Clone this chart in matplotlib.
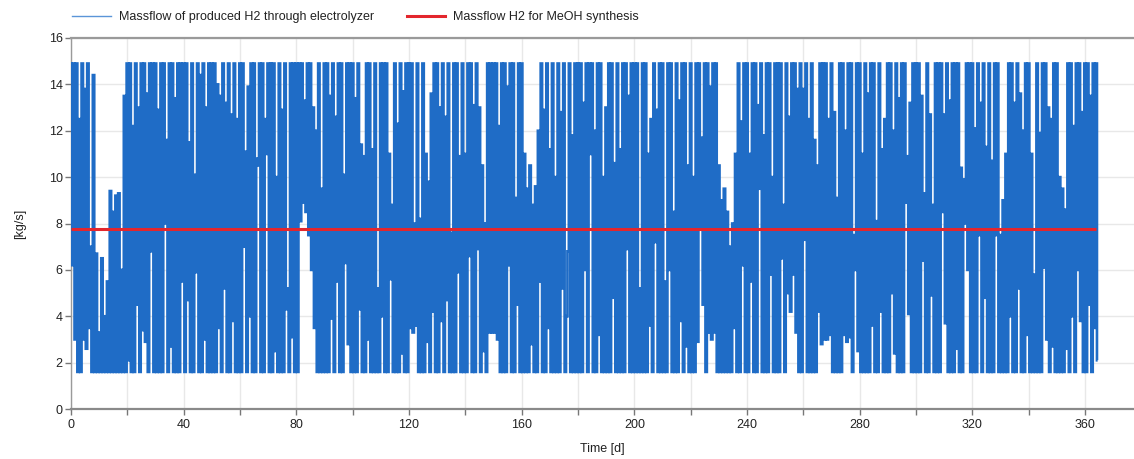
import numpy as np
import matplotlib
matplotlib.use("Agg")
import matplotlib.pyplot as plt
from matplotlib.lines import Line2D
from matplotlib.ticker import MultipleLocator

plt.rcParams['font.family'] = ['Liberation Sans', 'DejaVu Sans']

# Daily maximum of the produced H2 massflow [kg/s]
daily_peak = [
    14.9, 14.9, 14.9, 12.5, 14.9, 13.8, 14.9, 7.0, 14.4, 6.7,
    3.3, 6.5, 4.0, 5.5, 9.4, 8.5, 9.2, 9.3, 6.0, 13.5,
    14.9, 14.9, 12.2, 14.9, 13.0, 14.9, 14.9, 13.6, 14.9, 14.9,
    14.9, 12.9, 14.9, 14.9, 11.6, 14.9, 14.9, 13.4, 14.9, 14.9,
    14.9, 14.9, 11.5, 14.9, 10.1, 14.9, 14.4, 14.9, 13.0, 14.9,
    14.9, 14.9, 14.0, 13.5, 14.9, 13.2, 14.9, 12.7, 14.9, 12.5,
    14.9, 14.9, 11.1, 13.9, 14.9, 14.9, 10.8, 14.9, 14.9, 12.5,
    14.9, 14.9, 14.9, 10.0, 14.9, 12.9, 14.9, 5.2, 14.9, 14.9,
    14.9, 14.9, 14.9, 13.3, 14.9, 14.9, 13.0, 12.0, 14.9, 9.5,
    14.9, 14.9, 13.5, 14.9, 12.6, 14.9, 14.9, 10.1, 14.9, 14.9,
    14.9, 13.4, 14.9, 11.4, 10.9, 14.9, 14.9, 11.2, 14.9, 5.2,
    14.9, 14.9, 14.9, 11.0, 8.8, 14.9, 12.3, 14.9, 13.7, 14.9,
    14.9, 14.9, 8.0, 14.9, 8.2, 14.9, 11.0, 9.8, 13.6, 14.9,
    14.9, 13.0, 14.9, 12.6, 14.9, 7.6, 14.9, 14.9, 10.9, 14.9,
    11.0, 14.9, 14.9, 13.1, 14.9, 13.0, 10.5, 8.0, 14.9, 14.9,
    14.9, 14.9, 12.2, 14.9, 14.9, 13.9, 14.9, 14.9, 9.1, 14.9,
    14.9, 11.0, 9.5, 10.5, 8.8, 9.6, 12.0, 14.9, 12.9, 14.9,
    11.2, 14.9, 10.0, 14.9, 12.8, 14.9, 4.0, 14.9, 11.8, 14.9,
    14.9, 14.9, 13.2, 14.9, 14.9, 14.9, 12.0, 14.9, 14.9, 10.0,
    13.0, 14.9, 14.9, 10.6, 14.9, 11.2, 14.9, 14.9, 13.5, 14.9,
    14.9, 14.9, 5.2, 14.9, 14.9, 11.0, 12.5, 14.9, 12.9, 14.9,
    14.9, 5.5, 14.9, 14.9, 8.5, 14.9, 13.3, 14.9, 14.9, 10.5,
    14.9, 10.0, 14.9, 14.9, 11.7, 14.9, 14.9, 13.9, 14.9, 14.9,
    10.5, 9.0, 9.5, 8.5, 7.0, 8.0, 11.0, 14.9, 12.4, 14.9,
    14.9, 11.0, 14.9, 14.9, 13.1, 14.9, 11.8, 14.9, 14.9, 10.0,
    14.9, 14.9, 14.9, 8.8, 14.9, 12.6, 14.9, 14.9, 13.8, 14.9,
    13.8, 14.9, 12.5, 14.9, 11.6, 10.5, 14.9, 14.9, 14.9, 12.5,
    14.9, 12.8, 9.1, 14.9, 14.9, 12.0, 14.9, 14.9, 7.5, 14.9,
    14.9, 11.0, 14.9, 13.6, 14.9, 14.9, 8.1, 14.9, 11.2, 12.5,
    14.9, 14.9, 12.0, 14.9, 13.4, 14.9, 14.9, 10.9, 13.2, 14.9,
    14.9, 14.9, 13.5, 9.3, 14.9, 12.7, 8.8, 14.9, 14.9, 14.9,
    12.7, 14.9, 13.3, 14.9, 14.9, 14.9, 10.4, 9.9, 14.9, 14.9,
    14.9, 12.1, 14.9, 13.2, 14.9, 11.3, 14.9, 10.7, 14.9, 14.9,
    7.5, 9.0, 11.0, 14.9, 14.9, 13.2, 14.9, 13.6, 12.0, 14.9,
    14.9, 11.0, 5.8, 14.9, 11.9, 14.9, 14.9, 13.0, 12.5, 14.9,
    14.9, 10.0, 9.5, 8.6, 14.9, 14.9, 12.2, 14.9, 14.9, 12.8,
    14.9, 14.9, 13.5, 14.9, 14.9,
]

# Daily minimum of the produced H2 massflow [kg/s]
daily_trough = [
    6.2, 3.0, 1.6, 1.6, 3.0, 2.6, 3.5, 1.6, 1.6, 1.6,
    1.6, 1.6, 1.6, 1.6, 1.6, 1.6, 1.6, 1.6, 1.6, 1.6,
    2.1, 1.6, 1.6, 4.5, 1.6, 3.4, 2.9, 1.6, 6.8, 1.6,
    1.6, 1.6, 1.6, 8.0, 1.6, 2.7, 1.6, 1.6, 1.6, 5.5,
    1.6, 4.7, 1.6, 1.6, 5.9, 1.6, 1.6, 3.0, 1.6, 1.6,
    1.6, 1.6, 3.5, 1.6, 5.2, 1.6, 1.6, 3.8, 1.6, 1.6,
    1.6, 7.0, 1.6, 4.0, 1.6, 1.6, 10.5, 1.6, 1.6, 11.0,
    1.6, 1.6, 2.5, 1.6, 1.6, 1.6, 4.3, 1.6, 3.1, 1.6,
    1.6, 8.1, 8.9, 8.5, 7.5, 6.0, 3.5, 1.6, 1.6, 1.6,
    1.6, 1.6, 3.9, 1.6, 5.5, 1.6, 1.6, 6.3, 2.8, 1.6,
    1.6, 1.6, 4.3, 1.6, 1.6, 3.0, 1.6, 1.6, 1.6, 1.6,
    4.0, 1.6, 1.6, 5.6, 1.6, 1.6, 1.6, 2.4, 1.6, 1.6,
    3.5, 3.3, 3.6, 1.6, 1.6, 1.6, 2.9, 1.6, 4.2, 1.6,
    1.6, 3.8, 1.6, 4.7, 1.6, 1.6, 1.6, 5.9, 1.6, 1.6,
    1.6, 6.6, 1.6, 1.6, 6.9, 1.6, 2.5, 1.6, 3.3, 3.3,
    3.3, 3.0, 1.6, 1.6, 1.6, 6.2, 1.6, 1.6, 4.5, 1.6,
    1.6, 1.6, 1.6, 2.8, 1.6, 1.6, 5.5, 1.6, 1.6, 3.5,
    1.6, 1.6, 1.6, 1.6, 5.2, 1.6, 6.8, 1.6, 1.6, 1.6,
    1.6, 1.6, 6.0, 1.6, 11.0, 1.6, 1.6, 3.2, 1.6, 1.6,
    1.6, 1.6, 4.8, 1.6, 1.6, 1.6, 1.6, 6.9, 1.6, 1.6,
    1.6, 1.6, 1.6, 1.6, 1.6, 3.6, 1.6, 7.2, 1.6, 1.6,
    1.6, 1.6, 6.0, 1.6, 1.6, 1.6, 3.8, 1.6, 2.7, 1.6,
    1.6, 1.6, 2.9, 7.8, 4.5, 1.6, 3.3, 3.0, 3.3, 1.6,
    1.6, 1.6, 1.6, 1.6, 1.6, 3.5, 1.6, 1.6, 6.2, 1.6,
    1.6, 5.5, 1.6, 1.6, 9.5, 1.6, 1.6, 1.6, 5.8, 1.6,
    1.6, 1.6, 6.5, 1.6, 5.0, 4.2, 5.8, 3.3, 1.6, 1.6,
    7.3, 1.6, 1.6, 1.6, 1.6, 4.2, 2.8, 3.0, 3.0, 3.2,
    1.6, 1.6, 1.6, 1.6, 3.2, 2.9, 3.1, 1.6, 6.0, 2.5,
    1.6, 1.6, 1.6, 1.6, 3.6, 1.6, 1.6, 4.2, 1.6, 1.6,
    1.6, 5.0, 2.4, 1.6, 1.6, 1.6, 8.9, 4.1, 1.6, 1.6,
    1.6, 1.6, 6.4, 1.6, 1.6, 4.9, 1.6, 1.6, 1.6, 8.5,
    3.7, 1.6, 1.6, 1.6, 2.6, 1.6, 1.6, 8.0, 6.0, 1.6,
    1.6, 1.6, 7.5, 1.6, 4.8, 1.6, 1.6, 1.6, 7.5, 1.6,
    1.6, 1.6, 1.6, 4.0, 1.6, 1.6, 5.2, 1.6, 1.6, 3.2,
    1.6, 1.6, 1.6, 1.6, 1.6, 6.1, 3.0, 1.6, 2.7, 1.6,
    1.6, 1.6, 1.6, 2.6, 1.6, 4.0, 1.6, 6.0, 3.8, 1.6,
    1.6, 4.5, 1.6, 3.5, 2.1,
]

# Constant H2 demand of the methanol synthesis [kg/s]
meoh_time = [0, 364]
meoh_flow = [7.75, 7.75]

x_ticks = [0, 40, 80, 120, 160, 200, 240, 280, 320, 360]
y_ticks = [0, 2, 4, 6, 8, 10, 12, 14, 16]

label_prod = "Massflow of produced H2 through electrolyzer"
label_meoh = "Massflow H2 for MeOH synthesis"

blue = "#1f6cc6"
red = "#e3262d"

n = min(len(daily_peak), len(daily_trough))
flow = np.column_stack([daily_peak[:n], daily_trough[:n]]).ravel()
time = np.arange(flow.size) * 0.5

W, H = 1134, 459
fig = plt.figure(figsize=(W / 100, H / 100), dpi=100)
ax = fig.add_axes([71 / W, 50 / H, (W - 71) / W, 371 / H])

ax.plot(time, flow, color=blue, lw=1.9, drawstyle="steps-mid", zorder=3,
        solid_joinstyle="miter", solid_capstyle="butt")
ax.plot(meoh_time, meoh_flow, color=red, lw=2.2, zorder=4, solid_capstyle="butt")

ax.set_xlim(0, 377.4)
ax.set_ylim(0, 16)
ax.set_xticks(x_ticks)
ax.xaxis.set_minor_locator(MultipleLocator(20))
ax.set_yticks(y_ticks)

ax.grid(True, which="both", axis="x", color="#e8e8e8", lw=1.0, zorder=0)
ax.grid(True, which="major", axis="y", color="#e8e8e8", lw=1.0, zorder=0)

ax.spines["right"].set_visible(False)
ax.spines["top"].set_color("#9a9a9a")
ax.spines["top"].set_linewidth(1.6)
ax.spines["bottom"].set_color("#8a8a8a")
ax.spines["bottom"].set_linewidth(1.6)
ax.spines["left"].set_color("#9a9a9a")
ax.spines["left"].set_linewidth(1.0)

ax.tick_params(axis="both", which="both", direction="out", color="#777777",
               labelsize=9, labelcolor="#222222")
ax.tick_params(axis="x", which="major", length=4, width=1, pad=3)
ax.tick_params(axis="x", which="minor", length=4, width=1)
ax.tick_params(axis="y", which="major", length=4, width=1, pad=2)

ax.set_xlabel("Time [d]", fontsize=9, color="#222222", labelpad=9)
ax.set_ylabel("[kg/s]", fontsize=9, color="#222222", labelpad=16)

handles = [Line2D([], [], color="#5b95d8", lw=1.0),
           Line2D([], [], color=red, lw=2.2)]
fig.legend(handles, [label_prod, label_meoh], loc="center left",
           bbox_to_anchor=(72 / W, 1 - 17 / H), ncol=2, frameon=False,
           fontsize=9, handlelength=3.1, handletextpad=0.65,
           columnspacing=2.6, borderpad=0, borderaxespad=0,
           labelcolor="#222222")

fig.savefig("out.png", dpi=100)
